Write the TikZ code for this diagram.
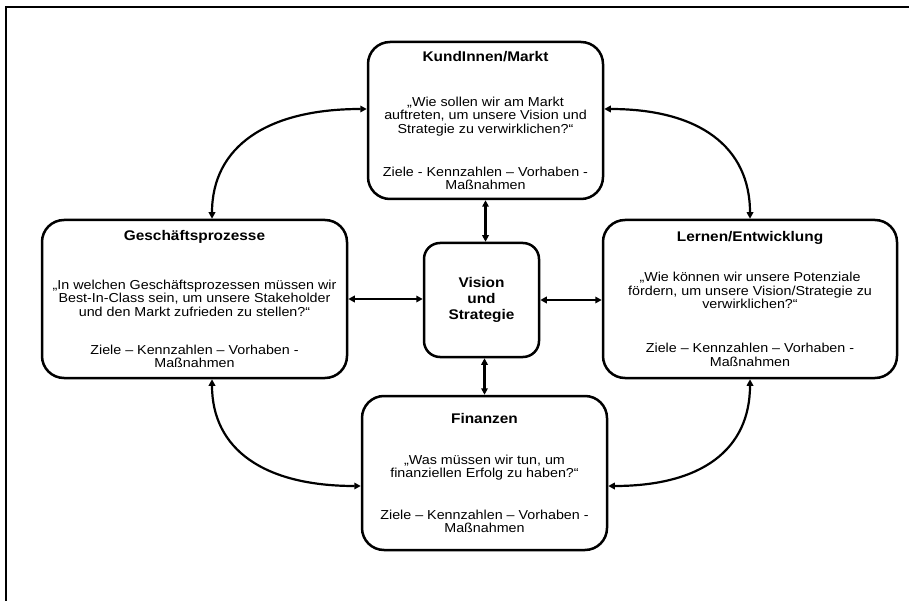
\documentclass[tikz,border=0pt]{standalone}
\usepackage{fontspec}
\setmainfont{Liberation Sans}[FakeStretch=1.1]
\usetikzlibrary{arrows.meta}

\newcommand{\cardfont}{\fontsize{13}{13.5}\selectfont\lineskiplimit=-20pt\relax}
\newcommand{\cardtitle}[1]{{\fontsize{14}{13.5}\selectfont\bfseries #1}}

\tikzset{
  x=1pt, y=1pt,
  card/.style={draw, line width=2.5pt, rounded corners=22pt, align=center,
    inner sep=0pt, font=\cardfont},
  core/.style={card, rounded corners=16pt, font=\fontsize{14}{16}\selectfont\bfseries},
  link/.style={line width=2.2pt, {Triangle[length=6.5pt,width=6.5pt]}-{Triangle[length=6.5pt,width=6.5pt]}},
  frameline/.style={line width=2pt}
}

\begin{document}
\begin{tikzpicture}
\useasboundingbox (0,0) rectangle (909,-601);

% open frame along the top and left edges
\coordinate (fbl) at (5.5,-601);
\coordinate (ftl) at (5.5,-7.2);
\coordinate (ftr) at (909,-7.2);
\draw[frameline] (fbl) -- (ftl) -- (ftr);

% centre
\node[core, minimum width=115, minimum height=114] (vision) at (481.5,-300)
  {Vision\\und\\Strategie};

% four perspectives
\node[card, minimum width=235, minimum height=157] (kunden) at (485.5,-120.5)
  {\cardtitle{KundInnen/Markt}\\[31pt]
   „Wie sollen wir am Markt\\
   auftreten, um unsere Vision und\\
   Strategie zu verwirklichen?“\\[29.5pt]
   Ziele - Kennzahlen – Vorhaben -\\
   Maßnahmen};

\node[card, minimum width=305, minimum height=158] (gesch) at (194.5,-299)
  {\cardtitle{Geschäftsprozesse}\\[35pt]
   „In welchen Geschäftsprozessen müssen wir\\
   Best-In-Class sein, um unsere Stakeholder\\
   und den Markt zufrieden zu stellen?“\\[24.5pt]
   Ziele – Kennzahlen – Vorhaben -\\
   Maßnahmen};

\node[card, minimum width=294, minimum height=158] (lernen) at (750,-299)
  {\cardtitle{Lernen/Entwicklung}\\[26.5pt]
   „Wie können wir unsere Potenziale\\
   fördern, um unsere Vision/Strategie zu\\
   verwirklichen?“\\[30.5pt]
   Ziele – Kennzahlen – Vorhaben -\\
   Maßnahmen};

\node[card, minimum width=245, minimum height=154] (fin) at (484.5,-473)
  {\cardtitle{Finanzen}\\[27.5pt]
   „Was müssen wir tun, um\\
   finanziellen Erfolg zu haben?“\\[28pt]
   Ziele – Kennzahlen – Vorhaben -\\
   Maßnahmen};

% straight links to the centre
\draw[link] (kunden.south) -- (kunden.south |- vision.north);
\draw[link] (vision.south -| fin.north) -- (fin.north);
\draw[link] (gesch.east) -- (gesch.east -| vision.west);
\draw[link] (vision.east) -- (vision.east -| lernen.west);

% curved links around the ring
\draw[link] ([yshift=11.5pt]kunden.west) .. controls +(-100,0) and +(0,72) .. ([xshift=17.5pt]gesch.north);
\draw[link] ([yshift=11.5pt]kunden.east) .. controls +(95,0) and +(0,72) .. (lernen.north);
\draw[link] ([xshift=17.5pt]gesch.south) .. controls +(0,-70) and +(-97,0) .. ([yshift=-13pt]fin.west);
\draw[link] (lernen.south) .. controls +(0,-70) and +(94,0) .. ([yshift=-13pt]fin.east);
\end{tikzpicture}
\end{document}
